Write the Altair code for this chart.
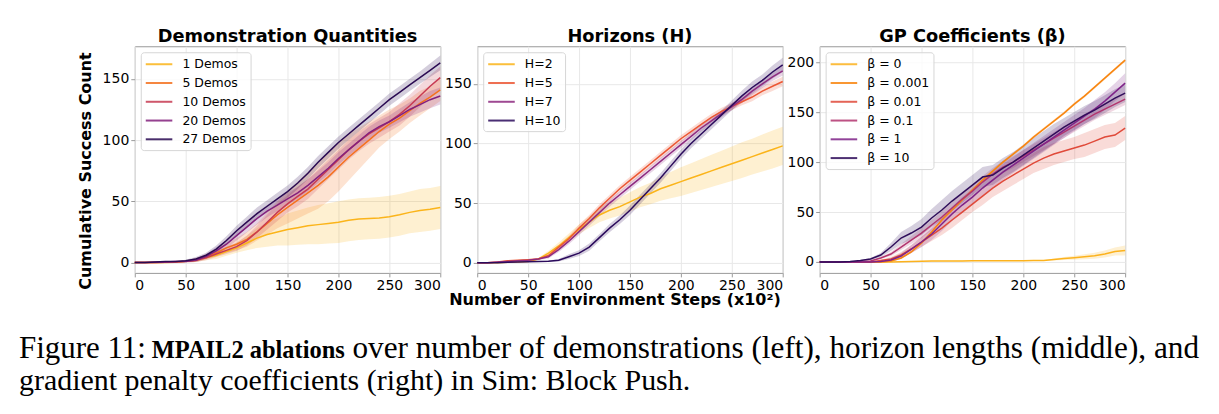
import altair as alt
import pandas as pd

# environment steps (x10^2) at which the curves are recorded
steps = list(range(0, 301, 10))

# ---- Demonstration quantities ----
demo_labels = ["1 Demos", "5 Demos", "10 Demos", "20 Demos", "27 Demos"]
demo_colors = ["#fbb41a", "#f4711f", "#c73a52", "#83207d", "#2a0a52"]
demo_mean = {
    "1 Demos": [0, 0, 0, 0, 0.3, 1, 2, 4, 6, 9, 12, 16, 20, 23, 25, 27, 28.5, 30, 31, 32, 33,
                34.5, 35.5, 36, 36.5, 37.5, 39, 41, 42.5, 43.5, 45],
    "5 Demos": [0, 0, 0, 0.3, 0.5, 1, 2, 5, 8, 12, 15, 19, 25, 32, 39, 45, 51, 57, 63, 70, 78,
                86, 93, 100, 107, 113, 118, 124, 130, 135, 141],
    "10 Demos": [0, 0, 0, 0.3, 0.5, 1, 2, 4, 7, 10, 13, 18, 25, 33, 41, 48, 54, 60, 68, 76, 84,
                 92, 99, 105, 110, 115, 121, 128, 136, 144, 151],
    "20 Demos": [0, 0, 0.3, 0.5, 0.8, 1, 2, 5, 9.5, 15, 22, 29, 36, 42, 47, 52, 57, 63, 70, 77, 85,
                 92, 99, 106, 111, 115, 120, 125, 129, 133, 136],
    "27 Demos": [0, 0, 0.5, 1, 1, 1.5, 3, 6, 11, 18, 26, 33, 40, 46, 52, 58, 65, 73, 82, 90, 98,
                 105, 112, 119, 126, 133, 139, 145, 151, 157, 163],
}
demo_std = {
    "1 Demos": [0, 0, 0, 0, 0.3, 0.8, 1.5, 2, 3, 3.5, 4, 6, 8, 10, 11, 13, 14, 15, 16, 16.5, 17,
                17, 17, 17, 17, 17, 17, 17, 17.5, 17.5, 17.5],
    "5 Demos": [0, 0, 0, 0, 0.3, 1, 1.5, 2, 3, 4, 5, 6, 7, 9, 11, 13, 15, 17, 19, 20, 20,
                19, 17, 15, 13, 12, 11, 10, 10, 9, 9],
    "10 Demos": [0, 0, 0, 0, 0.3, 0.8, 1.5, 2, 2.5, 3, 3.5, 4, 5, 6, 7, 7, 8, 8, 8, 8, 8,
                 8, 8, 8, 8, 8, 9, 9, 9, 9, 9],
    "20 Demos": [0, 0, 0, 0, 0.3, 0.8, 1.5, 2, 3, 3.5, 4, 4.5, 5, 5, 5, 5, 5, 5, 5, 5, 5,
                 5, 5, 5, 5, 5, 5.5, 6, 6.5, 7, 7],
    "27 Demos": [0, 0, 0, 0, 0.3, 0.8, 1.5, 2, 3, 3.5, 4, 4.5, 5, 5, 5, 5, 5, 5, 5, 5, 5,
                 5, 5, 5, 5, 5, 5, 5, 5, 5.5, 6],
}

# ---- Horizons ----
hor_labels = ["H=2", "H=5", "H=7", "H=10"]
hor_colors = ["#fbb41a", "#ec5734", "#8e2a80", "#2b0b5c"]
hor_mean = {
    "H=2": [0, 0, 0, 0.3, 0.5, 1, 3, 8, 14, 21, 28, 34, 40, 44, 47, 51, 55, 58, 62, 65, 68,
            71, 74, 77, 80, 83, 86, 89, 92, 95, 98],
    "H=5": [0, 0, 0.5, 1.5, 2, 2.5, 3, 6, 13, 20, 29, 37, 46, 54, 62, 69, 76, 83, 90, 97, 104,
            110, 116, 122, 127, 131, 135, 139, 144, 148, 152],
    "H=7": [0, 0, 0.5, 1, 1.5, 2, 3, 5, 11, 18, 26, 34, 42, 50, 57, 64, 71, 78, 85, 92, 99,
            106, 113, 119, 125, 131, 137, 144, 150, 156, 161],
    "H=10": [0, 0, 0, 0.3, 0.5, 0.8, 1, 1.2, 2, 5, 8, 13, 21, 29, 36, 44, 53, 62, 71, 81, 91,
             100, 108, 116, 124, 132, 140, 147, 153, 160, 166],
}
hor_std = {
    "H=2": [0, 0, 0, 0, 0.2, 0.5, 1, 2, 3, 3.5, 4, 5, 6, 7, 7.5, 8, 8.5, 9, 10, 11, 12,
            12.5, 13, 13.5, 14, 14.5, 15, 15, 15.5, 16, 16],
    "H=5": [0, 0, 0.3, 0.5, 0.5, 0.6, 0.8, 1.5, 2, 2.5, 3, 3, 3, 3, 3, 3, 3, 3, 3, 3, 3,
            3, 3, 3, 3, 3, 3, 3.5, 3.5, 4, 4],
    "H=7": [0, 0, 0.3, 0.5, 0.5, 0.6, 0.8, 1.5, 2, 2.5, 3, 3, 3, 3, 3, 3, 3, 3, 3, 3, 3,
            3, 3, 3, 3, 3, 3, 3.5, 3.5, 3.5, 4],
    "H=10": [0, 0, 0, 0, 0.2, 0.3, 0.4, 0.5, 1, 2, 2.5, 3, 3, 3.5, 3.5, 4, 4, 4, 4, 4, 4,
             4, 4, 4, 4, 4, 4.5, 5, 5, 5.5, 6],
}

# ---- Gradient penalty coefficients ----
gp_labels = ["β = 0", "β = 0.001", "β = 0.01", "β = 0.1", "β = 1", "β = 10"]
gp_colors = ["#fcb21d", "#f8850f", "#e04a3a", "#b2356f", "#7e2388", "#2f0d5a"]
gp_mean = {
    "β = 0": [0, 0, 0, 0, 0, 0, 0, 0, 0.3, 0.5, 0.7, 0.9, 1, 1, 1.1, 1.2, 1.2, 1.2, 1.2, 1.3, 1.3,
              1.4, 1.6, 2.5, 3.5, 4.3, 5.2, 6.3, 8, 10.5, 11.5],
    "β = 0.001": [0, 0, 0, 0, 0, 0, 0, 1, 4, 10, 19, 30, 42, 52, 62, 72, 82, 91, 100, 108, 116,
                  125, 133, 141, 149, 158, 166, 175, 184, 193, 202],
    "β = 0.01": [0, 0, 0, 0, 0, 0, 1.5, 3, 7, 13, 20, 27, 34, 42, 50, 58, 66, 74, 81, 87, 93,
                 99, 104, 108, 111, 114, 117, 121, 125, 127, 134],
    "β = 0.1": [0, 0, 0, 0, 0.5, 1, 4, 8, 15, 22, 29, 37, 45, 54, 63, 71, 80, 88, 95, 100, 106,
                112, 118, 124, 130, 136, 142, 148, 153, 158, 163],
    "β = 1": [0, 0, 0, 0, 0, 0, 0.5, 2, 6, 13, 20, 28, 38, 48, 57, 65, 74, 82, 90, 97, 104,
              111, 118, 125, 132, 139, 146, 153, 161, 170, 179],
    "β = 10": [0, 0, 0, 0.5, 1.5, 3, 7, 15, 24, 29, 35, 44, 52, 61, 69, 77, 85, 87, 94, 100, 107,
               114, 121, 128, 135, 141, 147, 152, 158, 164, 169],
}
gp_std = {
    "β = 0": [0, 0, 0, 0, 0, 0, 0, 0, 0.2, 0.3, 0.3, 0.3, 0.3, 0.3, 0.3, 0.3, 0.3, 0.3, 0.3, 0.3, 0.3,
              0.3, 0.5, 1, 1.5, 2, 2.5, 3, 3.5, 4, 5],
    "β = 0.001": [0, 0, 0, 0, 0, 0, 0, 0.5, 1, 1, 1.5, 1.5, 1.5, 1.5, 1.5, 1.5, 1.5, 1.5, 1.5, 1.5, 1.5,
                  1.5, 1.5, 1.5, 1.5, 1.5, 1.5, 1.5, 1.5, 1.5, 1.5],
    "β = 0.01": [0, 0, 0, 0, 0, 0.3, 1, 2, 3, 4, 5, 6, 7, 8, 8, 8, 9, 9, 10, 10, 10,
                 10, 11, 11, 11, 11, 12, 12, 12, 12, 12],
    "β = 0.1": [0, 0, 0, 0, 0.3, 0.5, 1, 2, 3, 4, 5, 5, 6, 6, 6, 6, 6, 6, 6, 6, 6,
                6, 6, 6, 6, 6, 6, 6, 6, 6, 6],
    "β = 1": [0, 0, 0, 0, 0.3, 0.5, 1, 2, 3, 4, 5, 6, 7, 7, 8, 8, 8, 8, 8, 8, 8,
              8, 8, 8, 8, 8, 8, 9, 9, 9, 10],
    "β = 10": [0, 0, 0, 0, 0.5, 1, 2, 4, 6, 7, 8, 9, 10, 10, 10, 10, 10, 10, 10, 10, 10,
               10, 10, 10, 9, 9, 9, 9, 9, 9, 9],
}

x_ticks = [0, 50, 100, 150, 200, 250, 300]
PANEL_W, PANEL_H = 306, 227
one = alt.Data(values=[{}])


def panel(title, labels, colors, means, stds, y_domain, y_ticks, extra=()):
    rows = []
    for lab in labels:
        for s, m, d in zip(steps, means[lab], stds[lab]):
            rows.append({"step": s, "series": lab, "mean": m, "lo": m - d, "hi": m + d})
    df = pd.DataFrame(rows)

    x = alt.X("step:Q", scale=alt.Scale(domain=[0, 300], nice=False),
              axis=alt.Axis(values=x_ticks, title=None))
    y_scale = alt.Scale(domain=y_domain, nice=False, zero=False)
    y_axis = alt.Axis(values=y_ticks, title=None)

    # shaded spread; its fill scale lists the series in reverse so it stays apart from the line legend
    band = alt.Chart(df).mark_area(opacity=0.2).encode(
        x=x,
        y=alt.Y("lo:Q", scale=y_scale, axis=y_axis),
        y2="hi:Q",
        fill=alt.Fill("series:N", scale=alt.Scale(domain=labels[::-1], range=colors[::-1]),
                      legend=None),
        detail="series:N",
    )
    line = alt.Chart(df).mark_line(strokeWidth=1.5).encode(
        x=x,
        y=alt.Y("mean:Q", scale=y_scale, axis=y_axis),
        color=alt.Color(
            "series:N",
            scale=alt.Scale(domain=labels, range=colors),
            legend=alt.Legend(
                title=None, orient="top-left", offset=6, symbolType="M-1,0H2.8",
                symbolSize=196, symbolStrokeWidth=2, symbolOpacity=0.85,
                labelFont="DejaVu Sans", labelFontSize=12.5, labelColor="black",
                labelOffset=21.7, rowPadding=3.8, padding=4,
                strokeColor="#d6d6d6", fillColor="rgba(255,255,255,0.8)", cornerRadius=3,
            ),
        ),
    )
    heading = alt.Chart(one).mark_text(
        text=title, font="DejaVu Sans", fontSize=17.8, fontWeight="bold", color="black",
        align="center", baseline="alphabetic",
    ).encode(x=alt.value(PANEL_W / 2), y=alt.value(-4.5))
    return alt.layer(band, line, heading, *extra).properties(width=PANEL_W, height=PANEL_H)


# page frame, shared axis titles and the figure caption (positions relative to the first panel)
frame = alt.Chart(one).mark_rect(opacity=0).encode(
    x=alt.value(-134), x2=alt.value(1085), y=alt.value(-45), y2=alt.value(369))
y_title = alt.Chart(one).mark_text(
    text="Cumulative Success Count", angle=270, font="DejaVu Sans", fontSize=16,
    fontWeight="bold", align="center", baseline="middle", color="black",
).encode(x=alt.value(-49), y=alt.value(125))
x_title = alt.Chart(one).mark_text(
    text="Number of Environment Steps (x10²)", font="DejaVu Sans", fontSize=16,
    fontWeight="bold", align="center", baseline="middle", color="black",
).encode(x=alt.value(481), y=alt.value(254.5))

cap_font = dict(font="Liberation Serif", baseline="alphabetic", align="left", color="black")
cap1a = alt.Chart(one).mark_text(text="Figure 11:", fontSize=31, **cap_font).encode(
    x=alt.value(-116), y=alt.value(312))
cap1b = alt.Chart(one).mark_text(text="MPAIL2 ablations", fontWeight="bold", fontSize=24.5,
                                 **cap_font).encode(x=alt.value(17), y=alt.value(312))
cap1c = alt.Chart(one).mark_text(
    text="over number of demonstrations (left), horizon lengths (middle), and", fontSize=31.3,
    **cap_font).encode(x=alt.value(218), y=alt.value(312))
cap2 = alt.Chart(one).mark_text(
    text="gradient penalty coefficients (right) in Sim: Block Push.", fontSize=30, **cap_font
).encode(x=alt.value(-116), y=alt.value(344))

p1 = panel("Demonstration Quantities", demo_labels, demo_colors, demo_mean, demo_std,
           [-8.4, 176.6], [0, 50, 100, 150],
           extra=(frame, y_title, x_title, cap1a, cap1b, cap1c, cap2))
p2 = panel("Horizons (H)", hor_labels, hor_colors, hor_mean, hor_std,
           [-8.6, 181.6], [0, 50, 100, 150])
p3 = panel("GP Coefficients (β)", gp_labels, gp_colors, gp_mean, gp_std,
           [-10.9, 215.9], [0, 50, 100, 150, 200])

chart = alt.hconcat(p1, p2, p3, spacing=37, bounds="flush").resolve_scale(
    color="independent", fill="independent", x="independent", y="independent"
).resolve_legend(color="independent").properties(padding=0).configure_view(
    stroke="#9a9a9a", strokeWidth=1
).configure_axis(
    labelFont="DejaVu Sans", labelFontSize=14, labelColor="black", labelPadding=2,
    domain=False, tickColor="#9a9a9a", tickSize=4, grid=True, gridColor="#e8e8e8",
    gridWidth=1,
)

chart.save("out.html", embed_options={"renderer": "svg", "actions": False})
